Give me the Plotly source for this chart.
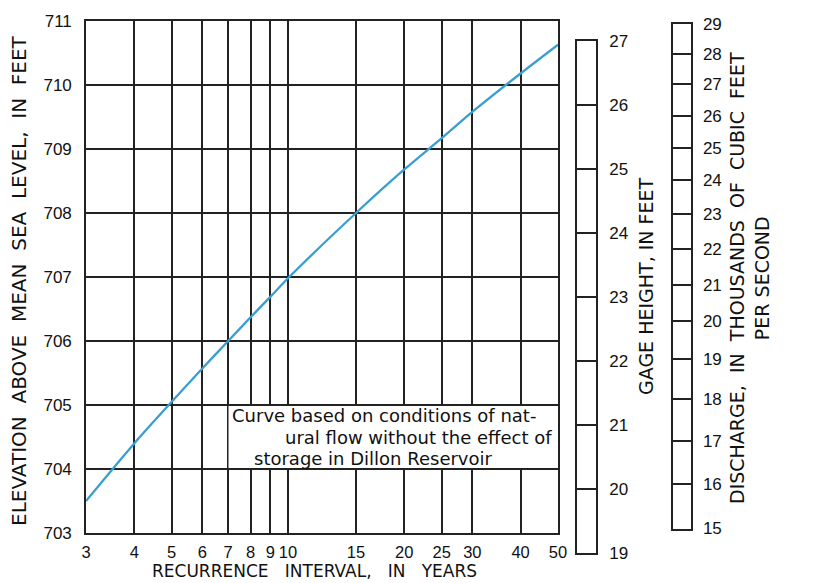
import math
import plotly.graph_objects as go

# Frequency curve: recurrence interval (years) vs elevation (feet above MSL)
recurrence_years = [3, 4, 5, 6, 7, 8, 9, 10, 15, 20, 25, 30, 40, 50]
elevation_ft = [703.5, 704.4, 705.05, 705.57, 706.0, 706.37, 706.69, 706.98,
                708.0, 708.68, 709.17, 709.58, 710.18, 710.63]

x_ticks = [3, 4, 5, 6, 7, 8, 9, 10, 15, 20, 25, 30, 40, 50]
y_ticks = [703, 704, 705, 706, 707, 708, 709, 710, 711]
y_range = [703, 711]

# Gage height scale (feet); gage datum relative to mean sea level
gage_range = [19, 27]
gage_datum_ft = 683.69

# Discharge scale (thousands of cfs) and equivalent elevation (rating)
discharge_kcfs = [15, 16, 17, 18, 19, 20, 21, 22, 23, 24, 25, 26, 27, 28, 29]
discharge_elev = [703.07, 703.76, 704.44, 705.09, 705.72, 706.31, 706.87, 707.43,
                  707.98, 708.51, 709.02, 709.52, 710.01, 710.48, 710.95]

note_lines = ["Curve based on conditions of nat-",
              "ural flow without the effect of",
              "storage in Dillon Reservoir"]

GRID = "#222222"
CURVE = "#3a9fd0"
TICKFONT = dict(family="Liberation Sans", size=17, color="#111111")
XTICKFONT = dict(family="Liberation Sans", size=16.5, color="#111111")
TITLEFONT = dict(family="DejaVu Sans", size=19, color="#111111")
LEFTFONT = dict(family="DejaVu Sans", size=20, color="#111111")
NOTEFONT = dict(family="DejaVu Sans", size=18, color="#111111")

W, H = 829, 583
ML, MR, MT, MB = 86, 138, 20, 24
PW, PH = W - ML - MR, H - MT - MB

TOP, BOT = 21, 533          # main plot area in pixels
SCALE = (BOT - TOP) / (y_range[1] - y_range[0])


def px(xpix):
    return (xpix - ML) / PW


def py(ypix):
    return (H - MB - ypix) / PH


def elev_pix(e):
    return TOP + (y_range[1] - e) * SCALE


gage_dom = [py(elev_pix(gage_range[0] + gage_datum_ft)),
            py(elev_pix(gage_range[1] + gage_datum_ft))]
dis_dom = [py(elev_pix(discharge_elev[0])), py(elev_pix(discharge_elev[-1]))]

fig = go.Figure()
fig.add_trace(go.Scatter(x=recurrence_years, y=elevation_ft, mode="lines",
                         line=dict(color=CURVE, width=2.3, shape="spline", smoothing=0.8),
                         hoverinfo="skip", showlegend=False))
# helper traces so the scale bars are drawn
fig.add_trace(go.Scatter(x=[0, 1], y=gage_range, xaxis="x2", yaxis="y2", mode="markers",
                         marker=dict(opacity=0), hoverinfo="skip", showlegend=False))
fig.add_trace(go.Scatter(x=[0, 1], y=[discharge_elev[0], discharge_elev[-1]], xaxis="x3",
                         yaxis="y3", mode="markers", marker=dict(opacity=0),
                         hoverinfo="skip", showlegend=False))

fig.update_layout(
    width=W, height=H,
    margin=dict(l=ML, r=MR, t=MT, b=MB, pad=0),
    paper_bgcolor="white", plot_bgcolor="white",
    xaxis=dict(type="log", range=[math.log10(3), math.log10(50)],
               domain=[0, px(558)], anchor="y",
               tickvals=x_ticks, ticktext=[str(v) for v in x_ticks],
               showgrid=True, gridcolor=GRID, gridwidth=1.5,
               showline=True, linecolor=GRID, linewidth=1.6, mirror=True,
               ticks="", ticklabelstandoff=3, tickfont=XTICKFONT, zeroline=False),
    yaxis=dict(range=y_range, domain=[py(BOT), py(TOP)], anchor="x",
               tickvals=y_ticks, showgrid=True, gridcolor=GRID, gridwidth=1.5,
               showline=True, linecolor=GRID, linewidth=1.6, mirror=True,
               ticks="", ticklabelstandoff=9, tickfont=TICKFONT, zeroline=False),
    xaxis2=dict(domain=[px(577), px(596)], anchor="y2", range=[0, 1],
                showgrid=False, showticklabels=False, zeroline=False,
                showline=True, linecolor=GRID, linewidth=1.6, mirror=True, ticks=""),
    yaxis2=dict(domain=gage_dom, anchor="x2", range=gage_range,
                side="right", tick0=19, dtick=1, showgrid=True, gridcolor=GRID,
                gridwidth=1.5, showline=True, linecolor=GRID, linewidth=1.6,
                mirror=True, ticks="", ticklabelstandoff=8, tickfont=TICKFONT,
                zeroline=False),
    xaxis3=dict(domain=[px(672.7), px(690.7)], anchor="y3", range=[0, 1],
                showgrid=False, showticklabels=False, zeroline=False,
                showline=True, linecolor=GRID, linewidth=1.6, mirror=True, ticks=""),
    yaxis3=dict(domain=dis_dom, anchor="x3",
                range=[discharge_elev[0], discharge_elev[-1]], side="right",
                tickvals=discharge_elev, ticktext=[str(v) for v in discharge_kcfs],
                showgrid=True, gridcolor=GRID, gridwidth=1.5,
                showline=True, linecolor=GRID, linewidth=1.6, mirror=True,
                ticks="", ticklabelstandoff=7, tickfont=TICKFONT, zeroline=False),
)

# white box for the note (covers vertical gridlines between 704 and 705)
fig.add_shape(type="rect", xref="x domain", yref="y", x0=(228.5 - ML) / 472, x1=0.997,
              y0=704.015, y1=704.985, fillcolor="white", line=dict(width=0),
              layer="above")

note_y = [704.84, 704.5, 704.17]
fig.add_annotation(text=note_lines[0], xref="x domain", yref="y", x=(230 - ML) / 472,
                   y=note_y[0], xanchor="left", yanchor="middle", showarrow=False,
                   font=NOTEFONT)
fig.add_annotation(text=note_lines[1], xref="x domain", yref="y", x=(554 - ML) / 472,
                   y=note_y[1], xanchor="right", yanchor="middle", showarrow=False,
                   font=NOTEFONT)
fig.add_annotation(text=note_lines[2], xref="x domain", yref="y", x=(252 - ML) / 472,
                   y=note_y[2], xanchor="left", yanchor="middle", showarrow=False,
                   font=NOTEFONT)

G1 = " \u00a0"
G2 = " \u00a0\u00a0"
fig.add_annotation(text=G1.join("ELEVATION ABOVE MEAN SEA LEVEL, IN FEET".split(" ")),
                   xref="paper", yref="paper", x=px(19), y=py(281), textangle=-90,
                   xanchor="center", yanchor="middle", showarrow=False, font=LEFTFONT)
fig.add_annotation(text=G2.join("RECURRENCE INTERVAL, IN YEARS".split(" ")),
                   xref="paper", yref="paper", x=px(314), y=py(582.5),
                   xanchor="center", yanchor="bottom", showarrow=False,
                   font=dict(family="DejaVu Sans", size=17, color="#111111"))
fig.add_annotation(text="GAGE HEIGHT, IN FEET",
                   xref="paper", yref="paper", x=px(646), y=py(286), textangle=-90,
                   xanchor="center", yanchor="middle", showarrow=False, font=TITLEFONT)
fig.add_annotation(text=G1.join("DISCHARGE, IN THOUSANDS OF CUBIC FEET".split(" "))
                   + "<br>PER SECOND",
                   xref="paper", yref="paper", x=px(749), y=py(278), textangle=-90,
                   xanchor="center", yanchor="middle", showarrow=False, font=TITLEFONT)

fig.write_html("out.html")
